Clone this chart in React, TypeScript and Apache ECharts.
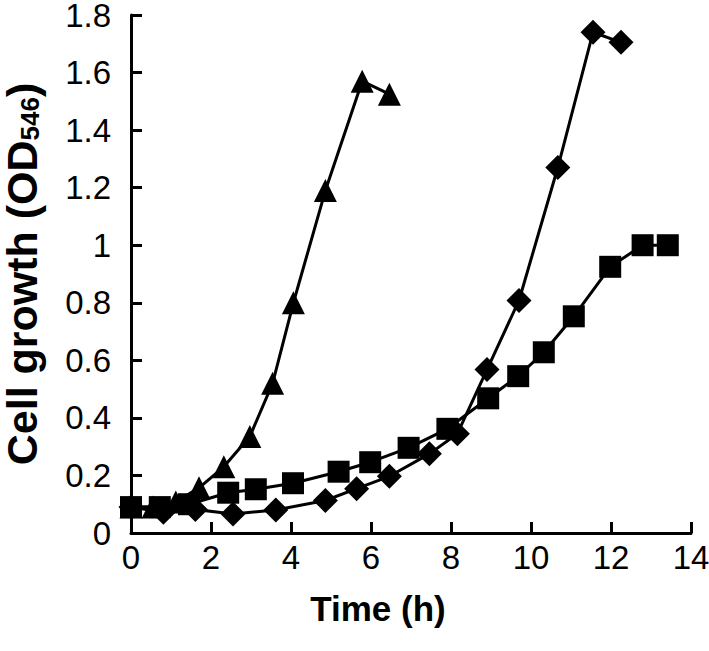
import React, { useEffect, useRef } from "react";
import * as echarts from "echarts";

// Time (h) and OD546 values
const squareTime = [0, 0.72, 1.45, 2.43, 3.12, 4.05, 5.19, 5.98, 6.94, 7.91, 8.93, 9.68, 10.32, 11.07, 11.98, 12.79, 13.42];
const squareOD = [0.09, 0.09, 0.1, 0.14, 0.152, 0.173, 0.213, 0.246, 0.296, 0.362, 0.468, 0.545, 0.628, 0.753, 0.925, 1.0, 1.0];

const diamondTime = [0, 0.81, 1.61, 2.55, 3.62, 4.86, 5.64, 6.46, 7.46, 8.16, 8.9, 9.7, 10.67, 11.55, 12.25];
const diamondOD = [0.09, 0.072, 0.082, 0.066, 0.08, 0.113, 0.154, 0.197, 0.275, 0.345, 0.568, 0.808, 1.27, 1.74, 1.705];

const triangleTime = [0, 0.55, 1.12, 1.7, 2.32, 2.97, 3.54, 4.06, 4.86, 5.78, 6.46];
const triangleOD = [0.09, 0.09, 0.108, 0.157, 0.23, 0.335, 0.52, 0.8, 1.19, 1.57, 1.525];

const xTicks = { min: 0, max: 14, interval: 2 };
const yTicks = { min: 0, max: 1.8, interval: 0.2 };

const pairs = (xs: number[], ys: number[]) => xs.map((x, i) => [x, ys[i]]);

export default function App() {
  const ref = useRef<HTMLDivElement>(null);
  useEffect(() => {
    if (!ref.current) return;
    const chart = echarts.init(ref.current, undefined, { renderer: "svg" });
    const font = "'Liberation Sans', Arial, sans-serif";
    const common = {
      type: "line" as const,
      showAllSymbol: true,
      lineStyle: { color: "#000", width: 3 },
      itemStyle: { color: "#000" },
    };
    chart.setOption({
      animation: false,
      backgroundColor: "#fff",
      grid: { left: 131, right: 18, top: 15, bottom: 118, outerBoundsMode: "none" },
      xAxis: {
        type: "value",
        min: xTicks.min,
        max: xTicks.max,
        interval: xTicks.interval,
        name: "Time (h)",
        nameLocation: "middle",
        nameGap: 58,
        nameTextStyle: {
          fontFamily: font,
          fontWeight: "bold",
          fontSize: 35,
          color: "#000",
          padding: [0, 66, 0, 0],
        },
        axisLine: { lineStyle: { color: "#000", width: 3 } },
        axisTick: { inside: true, length: 11, lineStyle: { color: "#000", width: 3 } },
        axisLabel: { fontFamily: font, fontSize: 33, lineHeight: 30, color: "#000", margin: 9 },
        splitLine: { show: false },
      },
      yAxis: {
        type: "value",
        min: yTicks.min,
        max: yTicks.max,
        interval: yTicks.interval,
        name: "{a|Cell growth (OD}{b|546}{a|)}",
        nameLocation: "middle",
        nameGap: 88,
        nameRotate: 90,
        nameTextStyle: {
          color: "#000",
          rich: {
            a: { fontFamily: font, fontWeight: "bold", fontSize: 43, color: "#000", lineHeight: 40, verticalAlign: "bottom" },
            b: { fontFamily: font, fontWeight: "bold", fontSize: 26, color: "#000", lineHeight: 24, verticalAlign: "bottom" },
          },
        },
        axisLine: { show: true, lineStyle: { color: "#000", width: 3 } },
        axisTick: { show: true, inside: true, length: 11, lineStyle: { color: "#000", width: 3 } },
        axisLabel: { fontFamily: font, fontSize: 33, lineHeight: 28, color: "#000", margin: 20 },
        splitLine: { show: false },
      },
      series: [
        { ...common, name: "triangle", symbol: "triangle", symbolSize: 23, data: pairs(triangleTime, triangleOD) },
        { ...common, name: "diamond", symbol: "diamond", symbolSize: 25, data: pairs(diamondTime, diamondOD) },
        { ...common, name: "square", symbol: "rect", symbolSize: 22, data: pairs(squareTime, squareOD) },
      ],
    });
    return () => chart.dispose();
  }, []);
  return <div ref={ref} style={{ position: "fixed", left: 0, top: 0, width: 709, height: 651 }} />;
}
